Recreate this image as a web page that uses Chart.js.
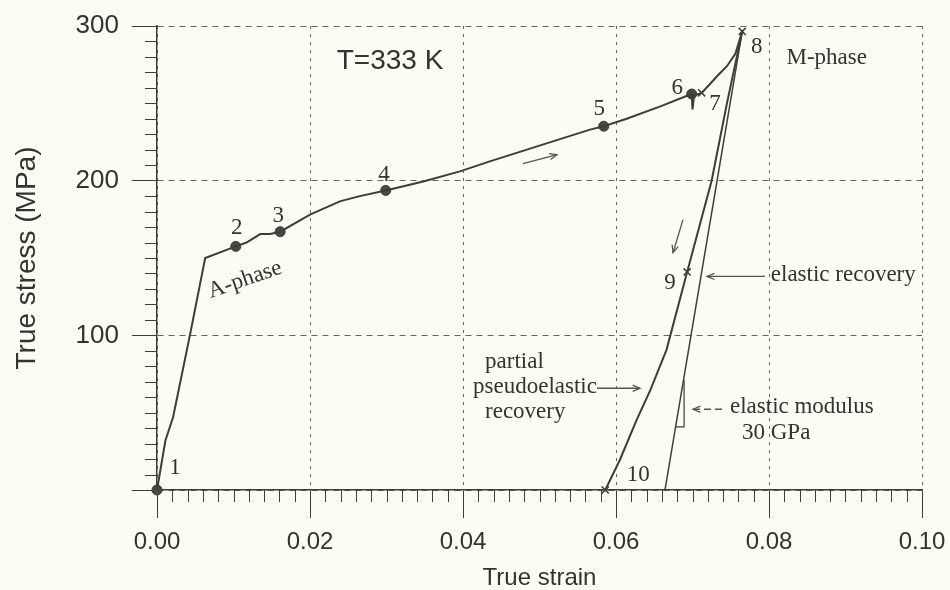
<!DOCTYPE html>
<html><head><meta charset="utf-8">
<script src="https://cdn.jsdelivr.net/npm/chart.js@4.4.0/dist/chart.umd.min.js"></script>
<style>html,body{margin:0;padding:0;background:#fbfcf4;}canvas{display:block;}</style>
</head><body>
<canvas id="c" width="950" height="590"></canvas>
<script>
// ---- data ----
const loadStrain = [0, 0.0011, 0.0021, 0.0043, 0.0063, 0.0103, 0.0117, 0.0135, 0.0148, 0.0161, 0.0200, 0.0239, 0.0265, 0.0299, 0.0348, 0.0396, 0.0435, 0.0566, 0.0584, 0.0614, 0.0658, 0.0697, 0.0699, 0.0700, 0.0702, 0.0712, 0.0722, 0.0732, 0.0745, 0.0756, 0.0765];
const loadStress = [0, 32, 47, 100, 150, 157.5, 160, 165.5, 165.5, 167, 178, 186.6, 190, 193.7, 199.5, 206, 212.5, 233, 235.2, 240, 248, 255.7, 256, 246, 255, 256.8, 262, 267.5, 274, 282, 296.5];
const unloadStrain = [0.0765, 0.0745, 0.0725, 0.0693, 0.0666, 0.0645, 0.0627, 0.0605, 0.0586];
const unloadStress = [296.5, 250, 200, 141, 90.6, 64.7, 45.3, 19.4, 0];
const elasticStrain = [0.0765, 0.0664];
const elasticStress = [296.5, 0];
const triStrain = [0.0678, 0.0689, 0.0689];
const triStress = [40.8, 40.8, 71.2];
const dotStrain = [0, 0.0103, 0.0161, 0.0299, 0.0584, 0.0699];
const dotStress = [0, 157.5, 167, 193.7, 235.2, 256];
const crossStrain = [0.0712, 0.0765, 0.0693, 0.0586];
const crossStress = [256.8, 296.5, 141, 0];
const pointNames = ['1','2','3','4','5','6','7','8','9','10'];
const xTicks = [0, 0.02, 0.04, 0.06, 0.08, 0.10];
const yTicks = [0, 100, 200, 300];

const pts = (xs, ys) => xs.map((x, i) => ({x: x, y: ys[i]}));
const INK = '#3d3d3a';
const TXT = '#333330';

const labels = [
  {t: pointNames[0], x: 0.00235, y: 14.2}, {t: pointNames[1], x: 0.01042, y: 169.4},
  {t: pointNames[2], x: 0.01586, y: 176.9}, {t: pointNames[3], x: 0.02967, y: 203.9},
  {t: pointNames[4], x: 0.05782, y: 246.4}, {t: pointNames[5], x: 0.06801, y: 260.0},
  {t: pointNames[6], x: 0.07294, y: 249.8}, {t: pointNames[7], x: 0.07839, y: 286.5},
  {t: pointNames[8], x: 0.06706, y: 133.8}, {t: pointNames[9], x: 0.06292, y: 9.7},
  {t: 'M-phase', x: 0.08754, y: 279.4},
  {t: 'T=333 K', x: 0.03046, y: 277.2, font: '28px "Liberation Sans", Arial, sans-serif'},
  {t: 'A-phase', x: 0.0115, y: 135.9, rot: -19},
  {t: 'elastic recovery', x: 0.08971, y: 139.2},
  {t: 'partial', x: 0.04288, y: 83.0, align: 'left'},
  {t: 'pseudoelastic', x: 0.04131, y: 66.9, align: 'left'},
  {t: 'recovery', x: 0.04288, y: 50.7, align: 'left'},
  {t: 'elastic modulus', x: 0.07490, y: 53.9, align: 'left'},
  {t: '30 GPa', x: 0.07647, y: 36.9, align: 'left'}
];
const arrows = [
  {x1: 0.04784, y1: 211.0, x2: 0.05229, y2: 216.8},
  {x1: 0.06876, y1: 174.8, x2: 0.06745, y2: 153.4},
  {x1: 0.07948, y1: 138.1, x2: 0.07190, y2: 138.1},
  {x1: 0.05752, y1: 65.8, x2: 0.06314, y2: 65.8},
  {x1: 0.07386, y1: 52.2, x2: 0.07007, y2: 52.2, dash: [7, 4]}
];

const bgPlugin = {
  id: 'bg',
  beforeDraw(chart) {
    const c = chart.ctx; c.save(); c.fillStyle = '#fbfcf4';
    c.fillRect(0, 0, chart.width, chart.height); c.restore();
  }
};

const minorTicks = {
  id: 'minorTicks',
  afterDraw(chart) {
    const c = chart.ctx, xs = chart.scales.x, ys = chart.scales.y, a = chart.chartArea;
    c.save(); c.strokeStyle = INK; c.lineWidth = 1;
    c.beginPath();
    for (let i = 1; i < 50; i++) {
      if (i % 10 === 0) continue;
      const px = Math.round(xs.getPixelForValue(i * 0.002)) + 0.5;
      c.moveTo(px, a.bottom); c.lineTo(px, a.bottom + 12);
    }
    for (let j = 1; j < 30; j++) {
      if (j % 10 === 0) continue;
      const py = Math.round(ys.getPixelForValue(j * 10)) + 0.5;
      c.moveTo(a.left, py); c.lineTo(a.left - 12, py);
    }
    c.stroke(); c.restore();
  }
};

const annot = {
  id: 'annot',
  afterDatasetsDraw(chart) {
    const c = chart.ctx, xs = chart.scales.x, ys = chart.scales.y;
    c.save();
    c.fillStyle = TXT; c.textBaseline = 'middle';
    labels.forEach(l => {
      const px = xs.getPixelForValue(l.x), py = ys.getPixelForValue(l.y);
      c.save();
      c.font = l.font || '23px "Liberation Serif", "Times New Roman", serif';
      c.textAlign = l.align || 'center';
      c.translate(px, py);
      if (l.rot) c.rotate(l.rot * Math.PI / 180);
      c.fillText(l.t, 0, 0);
      c.restore();
    });
    c.strokeStyle = '#55554f'; c.lineWidth = 1.3;
    arrows.forEach(ar => {
      const x1 = xs.getPixelForValue(ar.x1), y1 = ys.getPixelForValue(ar.y1);
      const x2 = xs.getPixelForValue(ar.x2), y2 = ys.getPixelForValue(ar.y2);
      c.setLineDash(ar.dash || []);
      c.beginPath(); c.moveTo(x1, y1); c.lineTo(x2, y2); c.stroke();
      c.setLineDash([]);
      const ang = Math.atan2(y2 - y1, x2 - x1), h = 8;
      c.beginPath();
      c.moveTo(x2 - h * Math.cos(ang - 0.4), y2 - h * Math.sin(ang - 0.4));
      c.lineTo(x2, y2);
      c.lineTo(x2 - h * Math.cos(ang + 0.4), y2 - h * Math.sin(ang + 0.4));
      c.stroke();
    });
    c.restore();
  }
};

new Chart(document.getElementById('c'), {
  type: 'scatter',
  data: {
    datasets: [
      {data: pts(loadStrain, loadStress), showLine: true, borderColor: INK, borderWidth: 2, pointRadius: 0, tension: 0},
      {data: pts(unloadStrain, unloadStress), showLine: true, borderColor: INK, borderWidth: 2, pointRadius: 0, tension: 0},
      {data: pts(elasticStrain, elasticStress), showLine: true, borderColor: INK, borderWidth: 1.5, pointRadius: 0},
      {data: pts(triStrain, triStress), showLine: true, borderColor: INK, borderWidth: 1.2, pointRadius: 0},
      {data: pts(dotStrain, dotStress), showLine: false, pointStyle: 'circle', pointRadius: 5, backgroundColor: '#4a4a45', borderColor: '#3a3a36', borderWidth: 1, clip: false},
      {data: pts(crossStrain, crossStress), showLine: false, pointStyle: 'crossRot', pointRadius: 5, borderColor: '#3a3a36', borderWidth: 1.5, clip: false}
    ]
  },
  options: {
    responsive: false, animation: false, devicePixelRatio: 1,
    layout: {padding: {left: 0, top: 26, right: 28, bottom: 0}},
    plugins: {legend: {display: false}, tooltip: {enabled: false}},
    scales: {
      x: {
        type: 'linear', min: 0, max: 0.10,
        afterBuildTicks(s) { s.ticks = xTicks.map(v => ({value: v})); },
        afterFit(s) { s.height = 100; },
        ticks: {padding: 4, color: TXT, font: {family: '"Liberation Sans", Arial, sans-serif', size: 24, lineHeight: 1.7},
          callback: v => v.toFixed(2)},
        grid: {color: '#66665f', lineWidth: 1, tickLength: 28, tickColor: INK, tickWidth: 1},
        border: {display: true, color: INK, width: 1.5, dash: [3, 5]},
        title: {display: true, text: 'True strain', color: TXT, padding: {top: 0, bottom: 0},
          font: {family: '"Liberation Sans", Arial, sans-serif', size: 24, lineHeight: 1.0}}
      },
      y: {
        type: 'linear', min: 0, max: 300,
        afterBuildTicks(s) { s.ticks = yTicks.map(v => ({value: v})); },
        afterFit(s) { s.width = 157; },
        ticks: {padding: 13, color: TXT, font: {family: '"Liberation Sans", Arial, sans-serif', size: 26, lineHeight: 1.0},
          callback: v => (v === 0 ? '' : String(v))},
        grid: {color: '#66665f', lineWidth: 1, tickLength: 25, tickColor: INK, tickWidth: 1},
        border: {display: true, color: INK, width: 1.5, dash: [6, 5]},
        title: {display: true, text: 'True stress (MPa)', color: TXT, padding: {top: 10, bottom: 0},
          font: {family: '"Liberation Sans", Arial, sans-serif', size: 28, lineHeight: 1.2}}
      }
    }
  },
  plugins: [bgPlugin, minorTicks, annot]
});
</script>
</body></html>
